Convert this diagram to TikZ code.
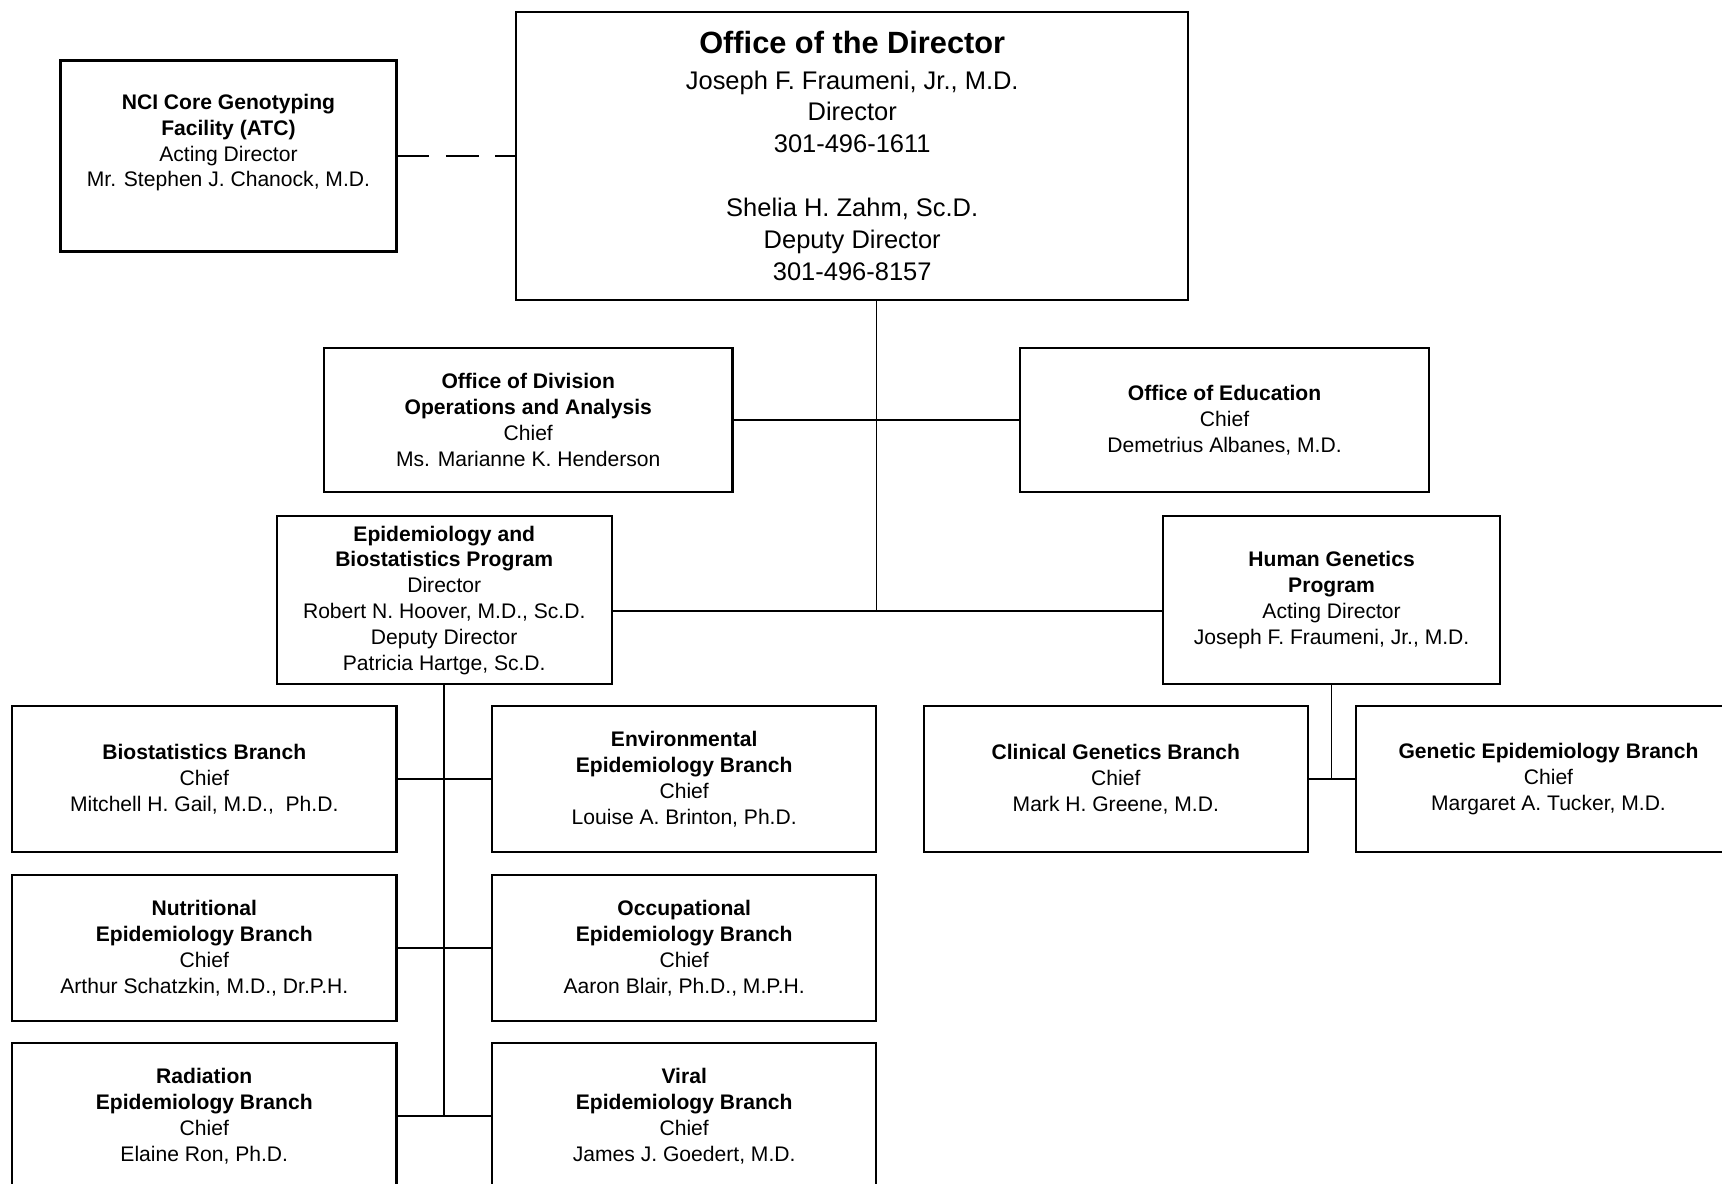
\documentclass[tikz,border=0pt]{standalone}
\usepackage{fontspec}
\setmainfont{Liberation Sans}
\usetikzlibrary{positioning}

\begin{document}
\begin{tikzpicture}[x=0.5pt,y=-0.5pt,
    every node/.style={inner sep=0pt,outer sep=0pt,align=center},
    unit/.style={draw=black,line width=1pt,font=\fontsize{9.6}{11.75}\selectfont},
    branch/.style={unit,minimum width=175pt,minimum height=66.5pt},
    link/.style={draw=black,line width=0.8pt},
    dashlink/.style={link,dash pattern=on 15pt off 7.5pt}]
  \useasboundingbox (0,0) rectangle (1568,1078);
  \clip (0,0) rectangle (1568,1078);
  \fill[white] (0,0) rectangle (1568,1078);

  % director and staff offices
  \node[unit,minimum width=306pt,minimum height=131pt,
        font=\fontsize{11.6}{14.5}\selectfont] (dir) at (776,142)
       {{\fontsize{14}{16.5}\selectfont\bfseries Office of the Director}\\[1.5pt]
        Joseph F. Fraumeni, Jr., M.D.\\ Director\\ 301-496-1611\\[14.5pt]
        Shelia H. Zahm, Sc.D.\\ Deputy Director\\ 301-496-8157};
  \node[unit,minimum width=153pt,minimum height=87pt,text depth=14pt] (nci) at (208,142)
       {\textbf{NCI Core Genotyping}\\ \textbf{Facility (ATC)}\\ Acting Director\\
        Mr. Stephen J. Chanock, M.D.};
  \node[unit,minimum width=186pt,minimum height=65.5pt] (ops) at (481,382.5)
       {\textbf{Office of Division}\\ \textbf{Operations and Analysis}\\ Chief\\
        Ms. Marianne K. Henderson};
  \node[unit,minimum width=186pt,minimum height=65.5pt] (edu) at (1115,382.5)
       {\textbf{Office of Education}\\ Chief\\ Demetrius Albanes, M.D.};

  % programs
  \node[unit,minimum width=152.5pt,minimum height=76.5pt] (ebp) at (404.5,546.5)
       {\textbf{Epidemiology and}\\ \textbf{Biostatistics Program}\\ Director\\
        Robert N. Hoover, M.D., Sc.D.\\ Deputy Director\\ Patricia Hartge, Sc.D.};
  \node[unit,minimum width=153.5pt,minimum height=76.5pt] (hgp) at (1212.5,546.5)
       {\textbf{Human Genetics}\\ \textbf{Program}\\ Acting Director\\
        Joseph F. Fraumeni, Jr., M.D.};

  % branches
  \node[branch] (bio) at (186,709.5)
       {\textbf{Biostatistics Branch}\\ Chief\\ Mitchell H. Gail, M.D.,~ Ph.D.};
  \node[branch,right=43.5pt of bio] (env)
       {\textbf{Environmental}\\ \textbf{Epidemiology Branch}\\ Chief\\ Louise A. Brinton, Ph.D.};
  \node[branch,below=10.5pt of bio] (nut)
       {\textbf{Nutritional}\\ \textbf{Epidemiology Branch}\\ Chief\\ Arthur Schatzkin, M.D., Dr.P.H.};
  \node[branch,right=43.5pt of nut] (occ)
       {\textbf{Occupational}\\ \textbf{Epidemiology Branch}\\ Chief\\ Aaron Blair, Ph.D., M.P.H.};
  \node[branch,below=10pt of nut] (rad)
       {\textbf{Radiation}\\ \textbf{Epidemiology Branch}\\ Chief\\ Elaine Ron, Ph.D.};
  \node[branch,right=43.5pt of rad] (vir)
       {\textbf{Viral}\\ \textbf{Epidemiology Branch}\\ Chief\\ James J. Goedert, M.D.};
  \node[branch] (clin) at (1016,709.5)
       {\textbf{Clinical Genetics Branch}\\ Chief\\ Mark H. Greene, M.D.};
  \node[branch,right=22pt of clin] (gen)
       {\textbf{Genetic Epidemiology Branch}\\ Chief\\ Margaret A. Tucker, M.D.};

  % connectors
  \coordinate (trunk) at (798,556);
  \draw[dashlink] (nci) -- (dir);
  \draw[link] (dir.south -| trunk) -- (trunk);
  \draw[link] (ops) -- (edu);
  \draw[link] (ebp.east |- trunk) -- (hgp.west |- trunk);
  \draw[link] (ebp.south) -- (ebp.south |- vir.west);
  \draw[link] (bio) -- (env);
  \draw[link] (nut) -- (occ);
  \draw[link] (rad) -- (vir);
  \draw[link] (hgp.south) -- (hgp.south |- gen.west);
  \draw[link] (clin) -- (gen);
\end{tikzpicture}
\end{document}
